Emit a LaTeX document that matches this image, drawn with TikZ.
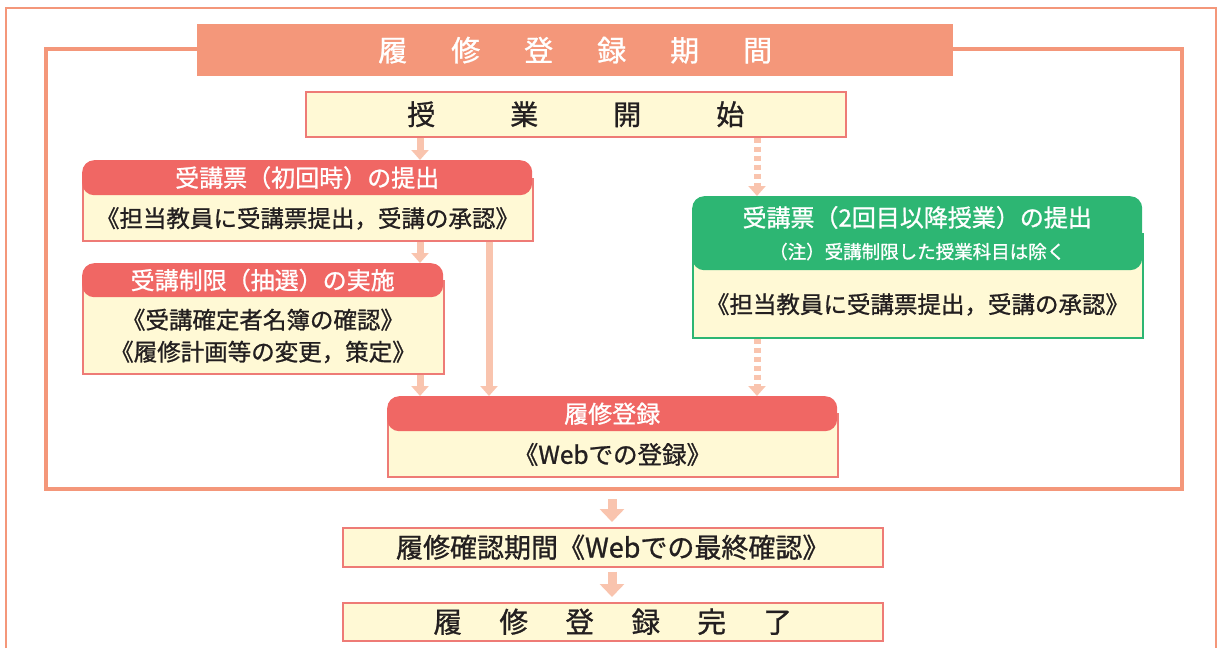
\documentclass[tikz,border=0pt]{standalone}
\usepackage{fontspec}
\setmainfont{Noto Sans CJK JP}[FakeBold=1]
\usetikzlibrary{arrows.meta,positioning,calc}
\definecolor{salmon}{HTML}{F4977A}
\definecolor{coral}{HTML}{F06764}
\definecolor{cream}{HTML}{FFF9D5}
\definecolor{leaf}{HTML}{2DB673}
\definecolor{peach}{HTML}{F9C4AE}
\definecolor{rim}{HTML}{EE7B76}
\definecolor{ink}{HTML}{231F20}
\newcommand{\fs}[1]{\fontsize{#1}{32}\selectfont}

\tikzset{
  plate/.style={draw=rim,line width=1.5pt,fill=cream,inner sep=0pt,anchor=north west},
  headbar/.style={fill=coral,rounded corners=12pt,inner sep=0pt,text=white,font=\fs{24},anchor=north west},
  say/.style={text=ink,font=\fs{23.5},align=center,inner sep=0pt},
  flow/.style={peach,line width=7pt,-{Triangle[width=17pt,length=10pt]}},
  dotflow/.style={flow,dash pattern=on 5pt off 4pt},
  bigflow/.style={peach,line width=9pt,-{Triangle[width=24pt,length=13pt]}},
}

\begin{document}
\begin{tikzpicture}[x=1pt,y=-1pt]
  \useasboundingbox (0,0) rectangle (1218,648);
  % frames
  \draw[salmon,line width=2.5pt] (6,648)--(6,8)--(1216,8)--(1216,648);
  \node[draw=salmon,line width=4pt,minimum width=1136,minimum height=440,anchor=north west,inner sep=0pt] (period) at (44,47) {};
  \node[fill=salmon,minimum width=756,minimum height=52,anchor=north west,inner sep=0pt,text=white,font=\fs{29}] (title) at (197,24)
    {履\hspace{44pt}修\hspace{44pt}登\hspace{44pt}録\hspace{44pt}期\hspace{44pt}間};
  \node[plate,minimum width=540,minimum height=45,text=ink,font=\fs{28}] (kaishi) at (305,91)
    {授\hspace{75pt}業\hspace{75pt}開\hspace{75pt}始};

  % first ticket
  \node[plate,minimum width=450,minimum height=62] (bodyA) at (82,178) {};
  \node[headbar,minimum width=450,minimum height=35] (capA) at (82,160) {受講票（初回時）の提出};
  \node[say] (textA) at ($(capA.south)!.5!(bodyA.south)$) {《担当教員に受講票提出，受講の承認》};

  % lottery
  \node[plate,minimum width=361,minimum height=93] (bodyB) at (82,280) {};
  \node[headbar,minimum width=361,minimum height=34] (capB) at (82,263) {受講制限（抽選）の実施};
  \node[say] (textB) at ($(capB.south)!.5!(bodyB.south)$) {《受講確定者名簿の確認》\\《履修計画等の変更，策定》};

  % later tickets
  \node[plate,draw=leaf,minimum width=450,minimum height=104] (bodyC) at (692,233) {};
  \node[headbar,fill=leaf,minimum width=450,minimum height=74,align=center] (capC) at (692,196)
    {受講票（2回目以降授業）の提出\\{\fs{18.5}（注）受講制限した授業科目は除く}};
  \node[say] (textC) at ($(capC.south)!.5!(bodyC.south)$) {《担当教員に受講票提出，受講の承認》};

  % registration
  \node[plate,minimum width=450,minimum height=63] (bodyD) at (387,413) {};
  \node[headbar,minimum width=450,minimum height=35] (capD) at (387,396) {履修登録};
  \node[say,font=\fs{24.5}] (textD) at ($(capD.south)!.5!(bodyD.south)$) {《Webでの登録》};

  % after the period
  \node[plate,minimum width=540,minimum height=39,text=ink,font=\fs{27}] (kakunin) at (342,527) {履修確認期間《Webでの最終確認》};
  \node[plate,minimum width=540,minimum height=38,text=ink,font=\fs{28.5}] (kanryo) at (342,602)
    {履\hspace{37.5pt}修\hspace{37.5pt}登\hspace{37.5pt}録\hspace{37.5pt}完\hspace{37.5pt}了};

  % arrows
  \draw[flow] (kaishi.south -| 420,0) -- (capA.north -| 420,0);
  \draw[dotflow] (kaishi.south -| 757,0) -- (capC.north -| 757,0);
  \draw[flow] (bodyA.south -| 420,0) -- (capB.north -| 420,0);
  \draw[flow] (bodyA.south -| 489,0) -- (capD.north -| 489,0);
  \draw[flow] (bodyB.south -| 420,0) -- (capD.north -| 420,0);
  \draw[dotflow] (bodyC.south -| 757,0) -- (capD.north -| 757,0);
  \draw[bigflow,shorten <=8pt,shorten >=5pt] (period.south -| 612,0) -- (kakunin.north -| 612,0);
  \draw[bigflow,shorten <=4pt,shorten >=5pt] (kakunin.south -| 612,0) -- (kanryo.north -| 612,0);
\end{tikzpicture}
\end{document}
